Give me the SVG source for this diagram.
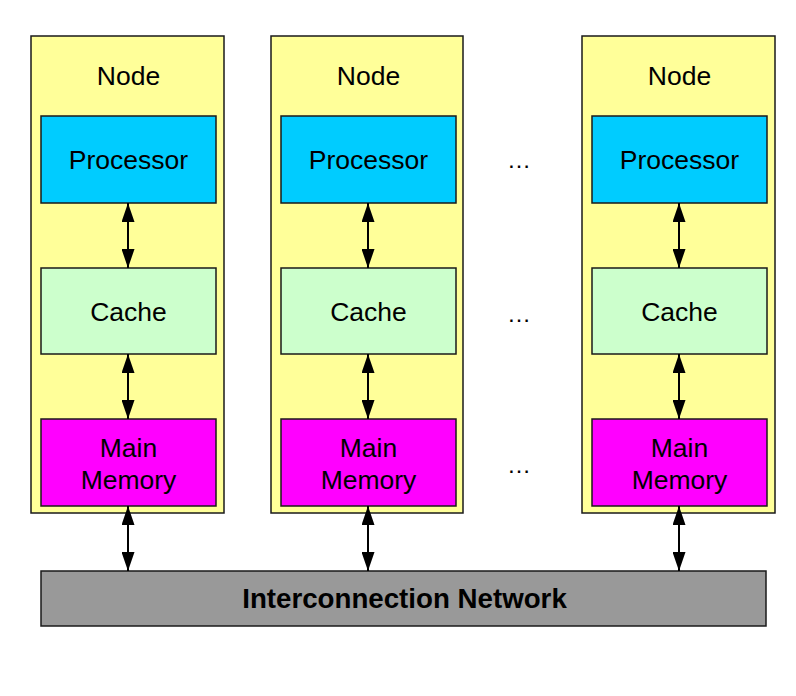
<svg xmlns="http://www.w3.org/2000/svg" width="796" height="696" viewBox="0 0 796 696">
<style>
.bg{fill:#ffffff}
.node{fill:#FFFF99;stroke:#1a1a1a;stroke-width:1.5}
.proc{fill:#00CCFF;stroke:#1a1a1a;stroke-width:1.5}
.cache{fill:#CCFFCC;stroke:#1a1a1a;stroke-width:1.5}
.mem{fill:#FF00FF;stroke:#1a1a1a;stroke-width:1.5}
.net{fill:#999999;stroke:#1a1a1a;stroke-width:1.5}
text{font-family:"Liberation Sans",Arial,sans-serif;font-size:26.5px;fill:#000;text-anchor:middle}
.b{font-weight:bold;font-size:27.7px}
.dots{font-size:24px}
.conn line{stroke:#000;stroke-width:2;marker-start:url(#ah);marker-end:url(#ah)}
</style>
<defs>
<marker id="ah" markerUnits="userSpaceOnUse" viewBox="0 0 19 13" refX="19" refY="6.5" markerWidth="19" markerHeight="13" orient="auto-start-reverse">
<path d="M0,0 L19,6.5 L0,13 z" fill="#000"/>
</marker>
</defs>
<rect class="bg" x="0" y="0" width="796" height="696"/>
<g id="node1">
<rect class="node" x="31" y="36" width="193" height="477"/>
<text x="128.5" y="85">Node</text>
<rect class="proc" x="41" y="116" width="175" height="87"/>
<text x="128.5" y="169">Processor</text>
<rect class="cache" x="41" y="268" width="175" height="86"/>
<text x="128.5" y="320.5">Cache</text>
<rect class="mem" x="41" y="419" width="175" height="87"/>
<text x="128.5" y="456.5">Main</text>
<text x="128.5" y="489">Memory</text>
</g>
<g id="node2">
<rect class="node" x="271" y="36" width="192" height="477"/>
<text x="368.5" y="85">Node</text>
<rect class="proc" x="281" y="116" width="175" height="87"/>
<text x="368.5" y="169">Processor</text>
<rect class="cache" x="281" y="268" width="175" height="86"/>
<text x="368.5" y="320.5">Cache</text>
<rect class="mem" x="281" y="419" width="175" height="87"/>
<text x="368.5" y="456.5">Main</text>
<text x="368.5" y="489">Memory</text>
</g>
<g id="node3">
<rect class="node" x="582" y="36" width="193" height="477"/>
<text x="679.5" y="85">Node</text>
<rect class="proc" x="592" y="116" width="175" height="87"/>
<text x="679.5" y="169">Processor</text>
<rect class="cache" x="592" y="268" width="175" height="86"/>
<text x="679.5" y="320.5">Cache</text>
<rect class="mem" x="592" y="419" width="175" height="87"/>
<text x="679.5" y="456.5">Main</text>
<text x="679.5" y="489">Memory</text>
</g>
<g id="ellipses">
<text class="dots" x="519" y="168">…</text>
<text class="dots" x="519" y="321.5">…</text>
<text class="dots" x="519" y="473">…</text>
</g>
<g id="network">
<rect class="net" x="41" y="571" width="725" height="55"/>
<text class="b" x="404.5" y="607.5">Interconnection Network</text>
</g>
<g id="connectors" class="conn">
<line x1="128" y1="203" x2="128" y2="268"/>
<line x1="128" y1="354" x2="128" y2="419"/>
<line x1="128" y1="506" x2="128" y2="571"/>
<line x1="368" y1="203" x2="368" y2="268"/>
<line x1="368" y1="354" x2="368" y2="419"/>
<line x1="368" y1="506" x2="368" y2="571"/>
<line x1="679" y1="203" x2="679" y2="268"/>
<line x1="679" y1="354" x2="679" y2="419"/>
<line x1="679" y1="506" x2="679" y2="571"/>
</g>
</svg>
